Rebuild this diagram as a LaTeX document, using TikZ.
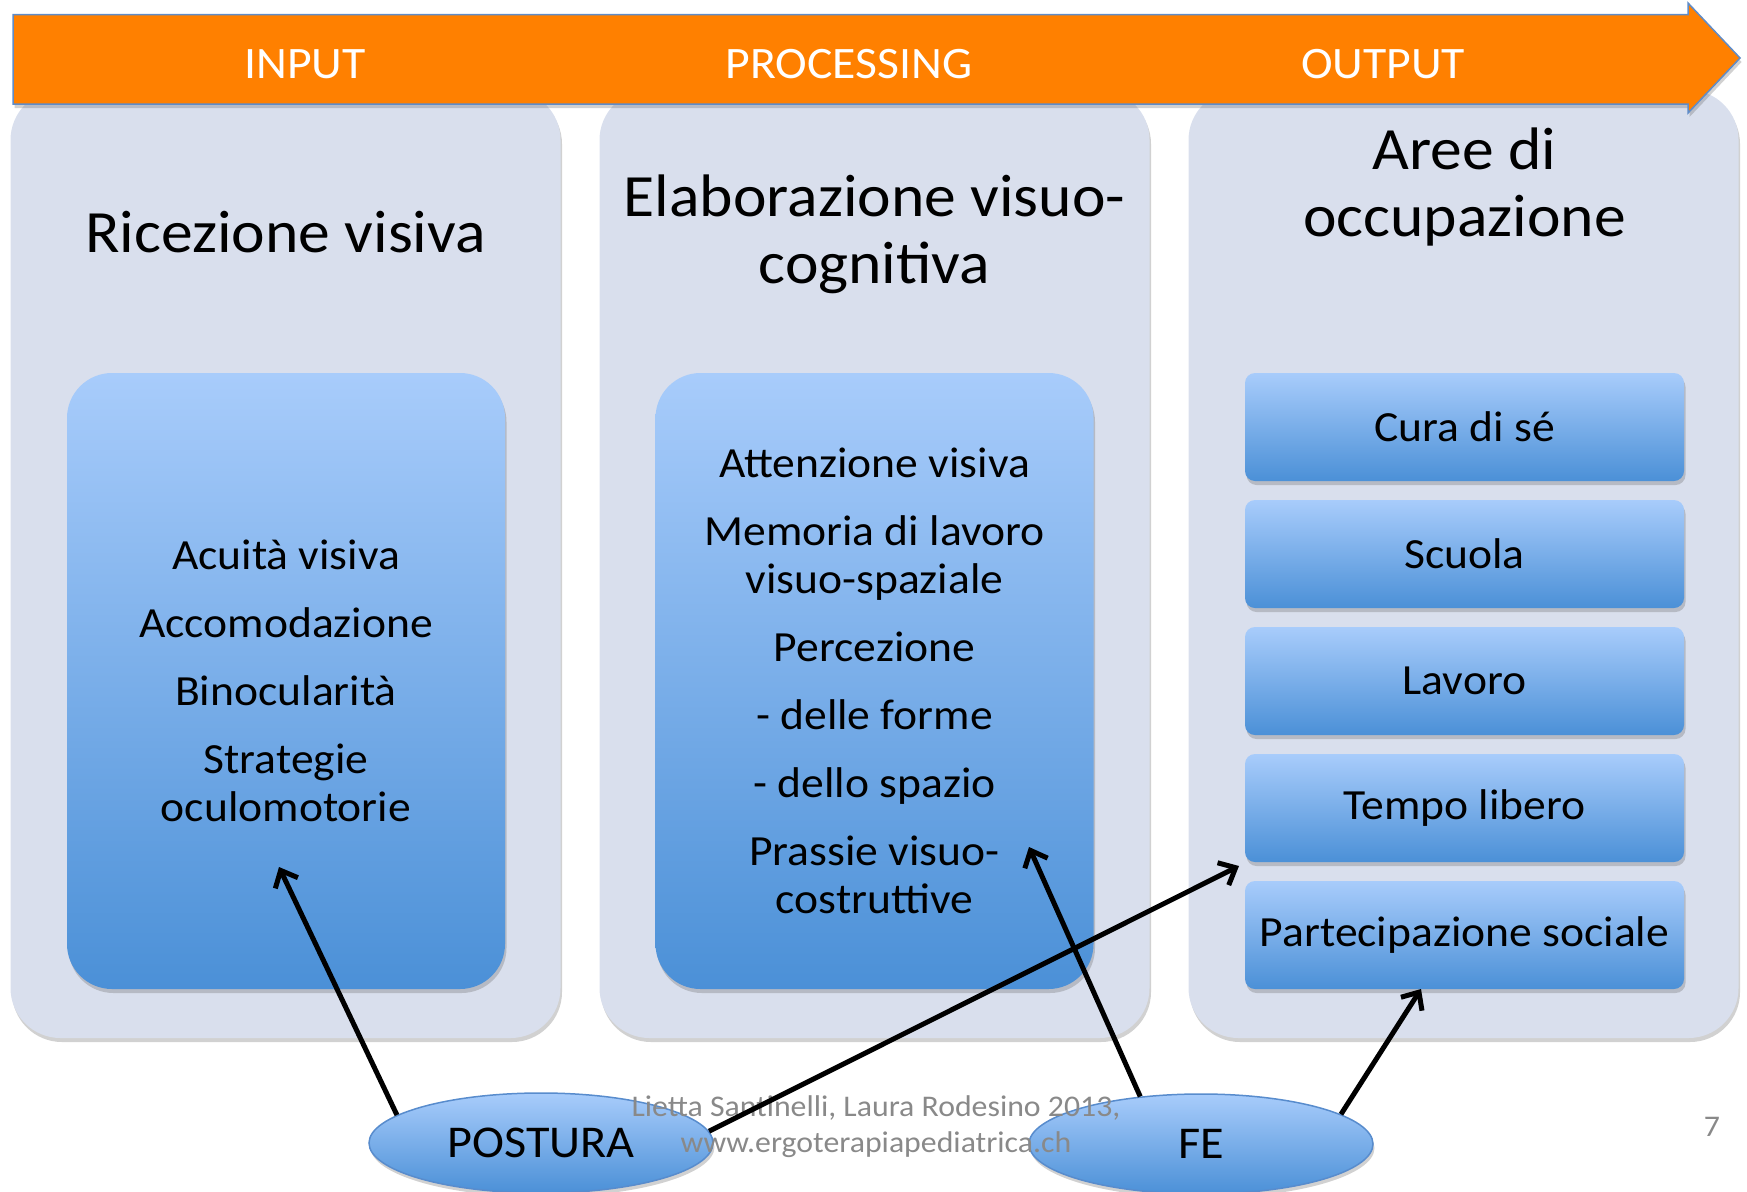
\documentclass[tikz,border=0pt]{standalone}
\usepackage{fontspec}
\setmainfont{Carlito}[FakeStretch=1.06]
\usetikzlibrary{shapes.geometric,shadows,arrows.meta}

\definecolor{barorange}{RGB}{255,128,0}
\definecolor{barline}{RGB}{95,140,200}
\definecolor{panelgray}{RGB}{217,223,237}
\definecolor{boxtop}{RGB}{168,204,251}
\definecolor{boxbot}{RGB}{75,144,215}
\definecolor{rimblue}{RGB}{88,140,205}
\definecolor{footgray}{RGB}{137,137,137}

\begin{document}
\begin{tikzpicture}[x=1pt,y=-1pt,
  softshadow/.style={drop shadow={shadow xshift=1.5pt,shadow yshift=-4pt,opacity=0.3,fill=black!60}},
  column/.style={rectangle,fill=panelgray,rounded corners=50pt,minimum width=550pt,minimum height=948pt,softshadow},
  bigbox/.style={rectangle,rounded corners=45pt,top color=boxtop,bottom color=boxbot,minimum width=438pt,minimum height=616pt,inner sep=0pt,softshadow},
  area/.style={rectangle,rounded corners=10pt,top color=boxtop,bottom color=boxbot,minimum width=439pt,minimum height=108pt,softshadow,font=\fontsize{43}{48}\selectfont},
  title/.style={align=center,font=\fontsize{60}{67}\selectfont},
  listing/.style={align=center,font=\fontsize{43}{48}\selectfont},
  header/.style={text=white,font=\fontsize{45}{54}\selectfont},
  blob/.style={ellipse,draw=rimblue,line width=1.5pt,top color=boxtop,bottom color=boxbot,minimum width=344pt,minimum height=100pt,inner sep=0pt,softshadow,font=\fontsize{45.5}{52}\selectfont},
  footer/.style={text=footgray,font=\fontsize{30}{36}\selectfont},
  link/.style={line width=5pt,-{Straight Barb[length=14pt,width=25pt]}}
  ]
\useasboundingbox (0,0) rectangle (1747,1191);
% the three columns
\node[column] (colin)  at (285.5,564) {};
\node[column] (colpro) at (874.5,564) {};
\node[column] (colout) at (1463.5,564) {};
% orange process arrow
\fill[barorange,draw=barline,line width=1.5pt,softshadow] (13,14.5) -- (1688,14.5) -- (1688,3) -- (1740,58) -- (1688,113) -- (1688,104) -- (13,104) -- cycle;
\node[header,anchor=base] (hin)  at (305,78) {INPUT};
\node[header,anchor=base] (hpro) at (849,78) {PROCESSING};
\node[header,anchor=base] (hout) at (1383,78) {OUTPUT};
% column titles
\node[title,anchor=base] (tin) at (285.5,252) {Ricezione visiva};
\node[title] (tpro) at (874.5,234) {Elaborazione visuo-\\cognitiva};
\node[title] (tout) at (1464.5,187) {Aree di\\occupazione};
% contents
\node[bigbox] (rv) at (286,681) {};
\node[listing] (rvlist) at (rv.center) {Acuità visiva\\[20pt]Accomodazione\\[20pt]Binocularità\\[20pt]Strategie\\oculomotorie};
\node[bigbox] (ev) at (874.5,681) {};
\node[listing] (evlist) at (ev.center) {Attenzione visiva\\[20pt]Memoria di lavoro\\visuo-spaziale\\[20pt]Percezione\\[20pt]- delle forme\\[20pt]- dello spazio\\[20pt]Prassie visuo-\\costruttive};
\node[area] (cura)   at (1464.5,427) {Cura di sé};
\node[area] (scuola) at (1464.5,554) {Scuola};
\node[area] (lavoro) at (1464.5,681) {Lavoro};
\node[area] (tempo)  at (1464.5,808) {Tempo libero};
\node[area] (part)   at (1464.5,935) {Partecipazione sociale};
% factors
\node[blob] (postura) at (541,1143) {POSTURA};
\node[blob] (fe) at (1201,1144) {FE};
\node[footer,align=center] (credit) at (876,1127) {Lietta Santinelli, Laura Rodesino 2013,\\www.ergoterapiapediatrica.ch};
\node[footer] (pagenum) at (1712,1127) {7};
% influences
\coordinate (t1) at (279,867);
\coordinate (t2) at (1239,866);
\coordinate (t3) at (1029,847);
\coordinate (t4) at (1421,989);
\draw[link] (postura.169) -- (t1);
\draw[link] (postura.4) -- (t2);
\draw[link] (fe.142) -- (t3);
\draw[link] (fe.12) -- (t4);
\end{tikzpicture}
\end{document}
